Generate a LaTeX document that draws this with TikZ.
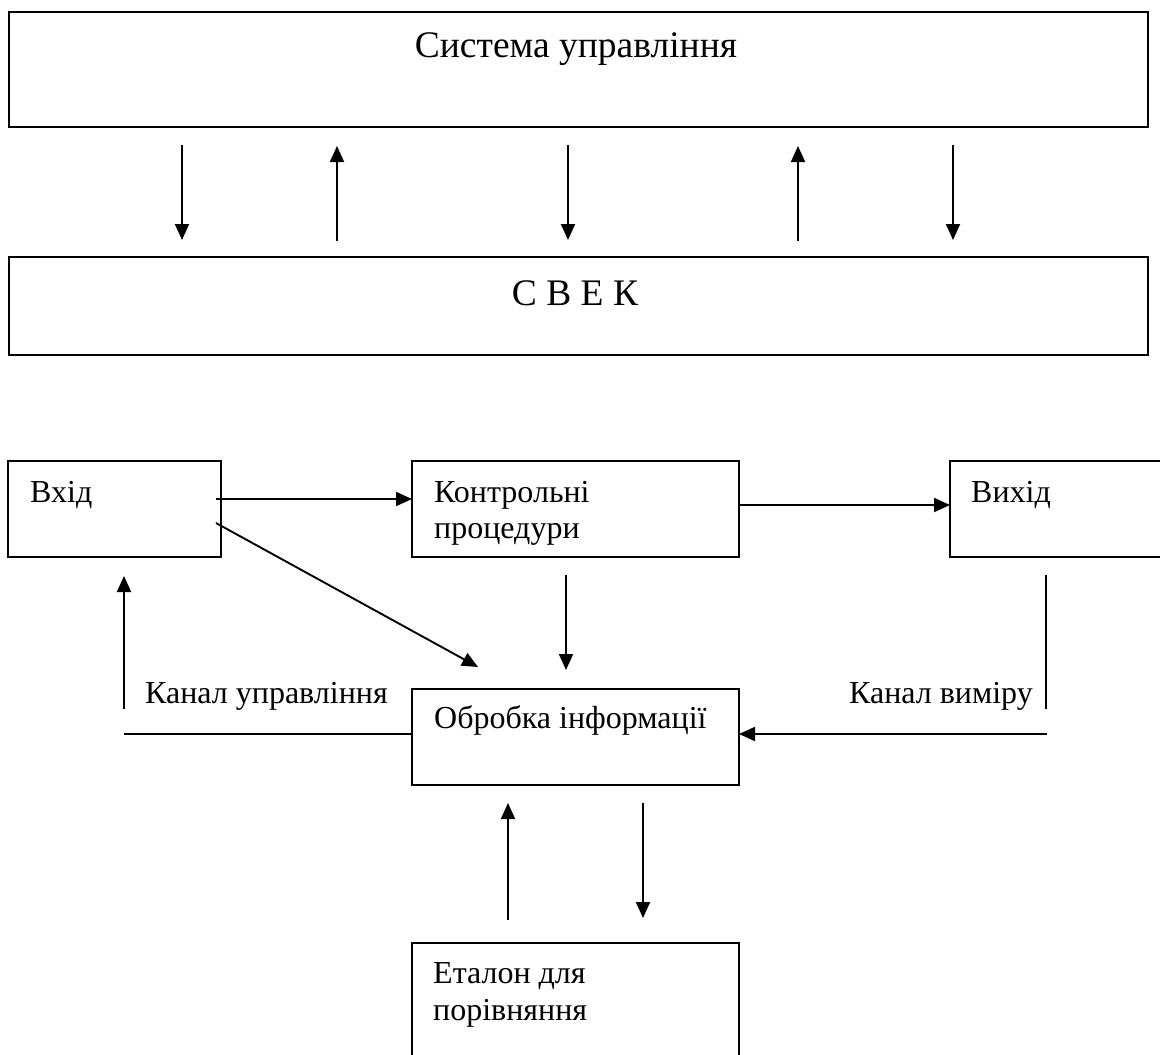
\documentclass[tikz,border=0pt]{standalone}
\usepackage{fontspec}
\setmainfont{Liberation Serif}
\usetikzlibrary{arrows.meta}
\begin{document}
\begin{tikzpicture}[x=1pt,y=-1pt,
  box/.style={draw,line width=2.2pt,inner sep=0,outer sep=0},
  arr/.style={line width=1.9pt,-{Triangle[length=16pt,width=14pt]}},
  ln/.style={line width=1.9pt},
  big/.style={inner sep=0,anchor=base,font=\fontsize{37.5}{45}\selectfont},
  txt/.style={inner sep=0,anchor=base west,font=\fontsize{32}{38}\selectfont}]
\useasboundingbox (0,0) rectangle (1160,1055);
\clip (0,0) rectangle (1160,1055);

% upper blocks
\draw[box] (9,12) rectangle (1148,127);
\node[big] (sysT) at (576,57) {Система управління};
\draw[box] (9,257) rectangle (1148,355);
\node[big] (svekT) at (575,305) {С В Е К};

% links between the control system and the complex
\coordinate (u1a) at (182,145); \coordinate (u1b) at (182,240);
\coordinate (u2a) at (337,241); \coordinate (u2b) at (337,146);
\coordinate (u3a) at (568,145); \coordinate (u3b) at (568,240);
\coordinate (u4a) at (798,241); \coordinate (u4b) at (798,146);
\coordinate (u5a) at (953,145); \coordinate (u5b) at (953,240);
\draw[arr] (u1a) -- (u1b);
\draw[arr] (u2a) -- (u2b);
\draw[arr] (u3a) -- (u3b);
\draw[arr] (u4a) -- (u4b);
\draw[arr] (u5a) -- (u5b);

% lower blocks
\node[box,minimum width=213pt,minimum height=96pt,anchor=north west] (vhid) at (8,461) {};
\node[box,minimum width=327pt,minimum height=96pt,anchor=north west] (kontr) at (412,461) {};
\node[box,minimum width=212pt,minimum height=96pt,anchor=north west] (vyhid) at (950,461) {};
\node[box,minimum width=327pt,minimum height=96pt,anchor=north west] (obrob) at (412,689) {};
\node[box,minimum width=327pt,minimum height=119pt,anchor=north west] (etal) at (412,943) {};

\node[txt] (vhidT) at (30,502) {Вхід};
\node[txt] (kontrT1) at (434,502) {Контрольні};
\node[txt] (kontrT2) at (434,538) {процедури};
\node[txt] (vyhidT) at (971,502) {Вихід};
\node[txt] (obrobT) at (434,728) {Обробка інформації};
\node[txt] (etalT1) at (433,983) {Еталон для};
\node[txt] (etalT2) at (433,1020) {порівняння};
\node[txt] (kuT) at (145,703) {Канал управління};
\node[txt,anchor=base east] (kvT) at (1033,703) {Канал виміру};

% connectors
\coordinate (p1) at (216,499);
\draw[arr] (p1) -- (kontr.west |- p1);
\coordinate (p2) at (739,505);
\draw[arr] (p2) -- (vyhid.west |- p2);
\coordinate (d1) at (216,523); \coordinate (d2) at (478,667);
\draw[arr] (d1) -- (d2);
\coordinate (k1) at (566,575); \coordinate (k2) at (566,670);
\draw[arr] (k1) -- (k2);

% control channel
\coordinate (cu1) at (124,709); \coordinate (cu2) at (124,576);
\draw[arr] (cu1) -- (cu2);
\coordinate (cu3) at (124,734);
\draw[ln] (cu3) -- (obrob.west |- cu3);

% measurement channel
\coordinate (cm1) at (1046,575); \coordinate (cm2) at (1046,709);
\draw[ln] (cm1) -- (cm2);
\coordinate (cm3) at (1047,734);
\draw[arr] (cm3) -- (obrob.east |- cm3);

% reference exchange
\coordinate (e1) at (508,920); \coordinate (e2) at (508,803);
\draw[arr] (e1) -- (e2);
\coordinate (e3) at (643,803); \coordinate (e4) at (643,918);
\draw[arr] (e3) -- (e4);
\end{tikzpicture}
\end{document}
